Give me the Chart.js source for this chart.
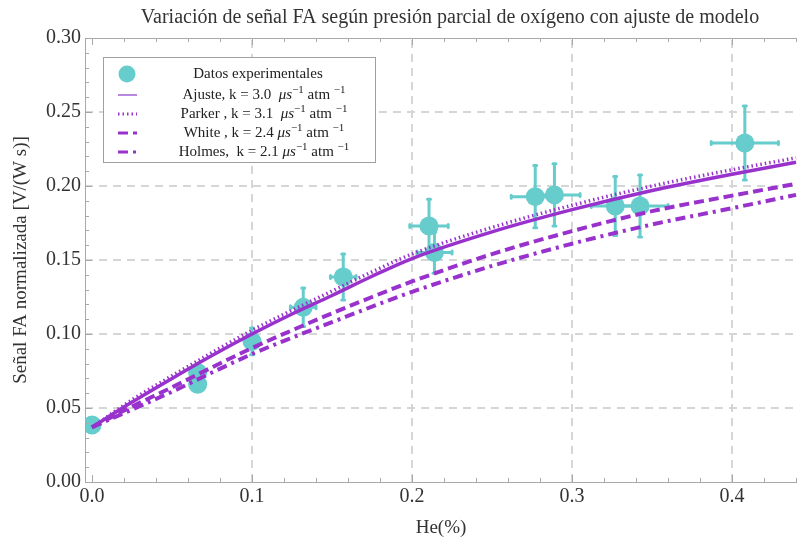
<!DOCTYPE html>
<html>
<head>
<meta charset="utf-8">
<script src="https://cdn.jsdelivr.net/npm/chart.js@4/dist/chart.umd.min.js"></script>
<style>
  html, body { margin: 0; padding: 0; background: #fff; }
</style>
</head>
<body>
<canvas id="senalFA" width="797" height="543"></canvas>
<script>
// datos experimentales
var heX   = [0.000, 0.066, 0.066, 0.100, 0.132, 0.157, 0.2106, 0.214, 0.277, 0.289, 0.327, 0.3425, 0.408];
var senal = [0.0385, 0.074, 0.066, 0.095, 0.118, 0.1385, 0.173, 0.155, 0.1928, 0.194, 0.1865, 0.1865, 0.229];
var errX  = [0, 0, 0, 0, 0.008, 0.008, 0.012, 0.011, 0.015, 0.016, 0.015, 0.0175, 0.021];
var errY  = [0, 0, 0, 0.009, 0.013, 0.0155, 0.018, 0.014, 0.021, 0.021, 0.020, 0.021, 0.025];

// curvas de modelo
var curvaX   = [0, 0.025, 0.05, 0.075, 0.1, 0.125, 0.15, 0.175, 0.2, 0.25, 0.3, 0.35, 0.4, 0.44];
var ajusteY  = [0.037, 0.054, 0.070, 0.0855, 0.100, 0.1135, 0.126, 0.139, 0.151, 0.169, 0.184, 0.197, 0.208, 0.216];
var parkerY  = [0.037, 0.0555, 0.0718, 0.0875, 0.1025, 0.116, 0.129, 0.142, 0.154, 0.172, 0.187, 0.2, 0.211, 0.219];
var whiteY   = [0.037, 0.051, 0.064, 0.0775, 0.0905, 0.1025, 0.114, 0.125, 0.1355, 0.154, 0.1695, 0.183, 0.1935, 0.2015];
var holmesY  = [0.037, 0.049, 0.061, 0.074, 0.0865, 0.0975, 0.108, 0.1185, 0.1285, 0.146, 0.161, 0.174, 0.185, 0.194];

var etiquetasX = [0, 0.1, 0.2, 0.3, 0.4];
var etiquetasY = [0, 0.05, 0.10, 0.15, 0.20, 0.25, 0.30];

var leyenda = [
    'Datos experimentales',
    ['Ajuste, k = 3.0  ', 'μs', '−1', ' atm ', '−1'],
    ['Parker , k = 3.1  ', 'μs', '−1', ' atm ', '−1'],
    ['White , k = 2.4 ', 'μs', '−1', ' atm ', '−1'],
    ['Holmes,  k = 2.1 ', 'μs', '−1', ' atm ', '−1']
];

var TEAL = '#66cccc';
var MORADO = '#9932cc';
var SERIF = "'Liberation Serif', 'DejaVu Serif', serif";

function pares(xs, ys) {
    return xs.map(function(x, i) { return { x: x, y: ys[i] }; });
}

// rejilla punteada, marcas hacia dentro, barras de error, titulo y leyenda
var extras = {
    id: 'extras',
    beforeDraw: function(chart) {
        var c = chart.ctx;
        c.save();
        c.fillStyle = '#fff';
        c.fillRect(0, 0, chart.width, chart.height);
        c.restore();
    },
    beforeDatasetsDraw: function(chart) {
        var c = chart.ctx, a = chart.chartArea;
        var sx = chart.scales.x, sy = chart.scales.y;
        c.save();
        c.strokeStyle = '#d6d6d6';
        c.lineWidth = 2;
        c.setLineDash([8, 6]);
        etiquetasX.forEach(function(v) {
            var px = Math.round(sx.getPixelForValue(v));
            if (v === 0) return;
            c.beginPath(); c.moveTo(px, a.bottom); c.lineTo(px, a.top); c.stroke();
        });
        etiquetasY.forEach(function(v) {
            var py = Math.round(sy.getPixelForValue(v));
            if (v === 0 || v === 0.30) return;
            c.beginPath(); c.moveTo(a.left, py); c.lineTo(a.right, py); c.stroke();
        });
        c.setLineDash([]);

        // barras de error
        c.strokeStyle = TEAL;
        c.lineWidth = 3;
        c.lineCap = 'round';
        heX.forEach(function(x, i) {
            var px = sx.getPixelForValue(x), py = sy.getPixelForValue(senal[i]);
            c.beginPath();
            if (errX[i] > 0) {
                var x0 = sx.getPixelForValue(x - errX[i]), x1 = sx.getPixelForValue(x + errX[i]);
                c.moveTo(x0, py); c.lineTo(x1, py);
                c.moveTo(x0, py - 1.5); c.lineTo(x0, py + 1.5);
                c.moveTo(x1, py - 1.5); c.lineTo(x1, py + 1.5);
            }
            if (errY[i] > 0) {
                var y0 = sy.getPixelForValue(senal[i] - errY[i]), y1 = sy.getPixelForValue(senal[i] + errY[i]);
                c.moveTo(px, y0); c.lineTo(px, y1);
                c.moveTo(px - 1.5, y0); c.lineTo(px + 1.5, y0);
                c.moveTo(px - 1.5, y1); c.lineTo(px + 1.5, y1);
            }
            c.stroke();
        });
        c.restore();
    },
    afterDraw: function(chart) {
        var c = chart.ctx, a = chart.chartArea;
        var sx = chart.scales.x, sy = chart.scales.y;
        c.save();

        // marco
        c.strokeStyle = '#a8a8a8';
        c.lineWidth = 1;
        c.beginPath();
        c.moveTo(a.right, a.top + 0.5); c.lineTo(a.left + 0.5, a.top + 0.5);
        c.lineTo(a.left + 0.5, a.bottom + 0.5); c.lineTo(a.right, a.bottom + 0.5);
        c.stroke();

        // marcas
        c.beginPath();
        var v, px, py, L;
        for (var k = 0; k <= 22; k++) {
            v = k * 0.02;
            px = Math.round(sx.getPixelForValue(v)) + 0.5;
            L = (k % 5 === 0) ? 7 : 4;
            c.moveTo(px, a.bottom); c.lineTo(px, a.bottom - L);
            c.moveTo(px, a.top); c.lineTo(px, a.top + L);
        }
        for (var j = 0; j <= 30; j++) {
            v = j * 0.01;
            py = Math.round(sy.getPixelForValue(v)) + 0.5;
            L = (j % 5 === 0) ? 7 : 4;
            c.moveTo(a.left, py); c.lineTo(a.left + L, py);
        }
        c.stroke();

        // titulo
        c.fillStyle = '#333';
        c.font = '20px ' + SERIF;
        c.textAlign = 'center';
        c.textBaseline = 'middle';
        c.fillText('Variación de señal FA según presión parcial de oxígeno con ajuste de modelo', 450, 18);

        // leyenda
        var bx = 103, by = 57, bw = 272, bh = 105;
        c.fillStyle = '#fff';
        c.fillRect(bx, by, bw, bh);
        c.strokeStyle = '#a0a0a0';
        c.strokeRect(bx + 0.5, by + 0.5, bw, bh);
        var filas = [74, 95, 114, 133, 152];
        var sets = chart.data.datasets;
        var mx = 127;

        c.fillStyle = TEAL;
        c.beginPath(); c.arc(mx, filas[0], 8.5, 0, Math.PI * 2); c.fill();
        for (var r = 1; r < 5; r++) {
            var ds = sets[r];
            c.strokeStyle = r === 1 ? '#b987e0' : ds.borderColor;
            c.lineWidth = r === 1 ? 2 : 3;
            c.setLineDash(ds.borderDash || []);
            c.beginPath(); c.moveTo(mx - 9, filas[r]); c.lineTo(mx + 10, filas[r]); c.stroke();
        }
        c.setLineDash([]);

        c.fillStyle = '#222';
        c.textAlign = 'center';
        c.font = '15px ' + SERIF;
        c.fillText(leyenda[0], 258, filas[0]);
        for (r = 1; r < 5; r++) {
            var partes = leyenda[r];
            var fNormal = '15px ' + SERIF, fItal = 'italic 15px ' + SERIF, fSup = '11px ' + SERIF;
            var estilos = [fNormal, fItal, fSup, fNormal, fSup];
            var ancho = 0;
            partes.forEach(function(t, i) { c.font = estilos[i]; ancho += c.measureText(t).width; });
            var x = 264 - ancho / 2;
            c.textAlign = 'left';
            partes.forEach(function(t, i) {
                c.font = estilos[i];
                var dy = (estilos[i] === fSup) ? -5 : 0;
                c.fillText(t, x, filas[r] + dy);
                x += c.measureText(t).width;
            });
        }
        c.restore();
    }
};

var ctx = document.getElementById('senalFA').getContext('2d');
var grafico = new Chart(ctx, {
    type: 'scatter',
    data: {
        datasets: [{
            label: 'Datos experimentales',
            data: pares(heX, senal),
            backgroundColor: TEAL,
            borderColor: TEAL,
            pointRadius: 9.5,
            pointHoverRadius: 9.5,
            borderWidth: 0,
            order: 5
        }, {
            label: 'Ajuste',
            data: pares(curvaX, ajusteY),
            showLine: true,
            borderColor: MORADO,
            borderWidth: 3.5,
            pointRadius: 0,
            cubicInterpolationMode: 'monotone',
            order: 1
        }, {
            label: 'Parker',
            data: pares(curvaX, parkerY),
            showLine: true,
            borderColor: MORADO,
            borderWidth: 3.5,
            borderDash: [1.5, 3],
            pointRadius: 0,
            cubicInterpolationMode: 'monotone',
            order: 2
        }, {
            label: 'White',
            data: pares(curvaX, whiteY),
            showLine: true,
            borderColor: MORADO,
            borderWidth: 4,
            borderDash: [10, 5],
            pointRadius: 0,
            cubicInterpolationMode: 'monotone',
            order: 3
        }, {
            label: 'Holmes',
            data: pares(curvaX, holmesY),
            showLine: true,
            borderColor: MORADO,
            borderWidth: 4,
            borderDash: [10, 5, 3, 5],
            pointRadius: 0,
            cubicInterpolationMode: 'monotone',
            order: 4
        }]
    },
    options: {
        responsive: false,
        animation: false,
        layout: { autoPadding: false, padding: { top: 38, right: 0, left: 0, bottom: 0 } },
        plugins: {
            legend: { display: false },
            title: { display: false },
            tooltip: { enabled: false }
        },
        scales: {
            x: {
                type: 'linear',
                min: -0.0044,
                max: 0.4406,
                afterBuildTicks: function(s) { s.ticks = etiquetasX.map(function(v) { return { value: v }; }); },
                afterFit: function(s) { s.height = 61; },
                grid: { display: false, drawTicks: false },
                border: { display: false },
                ticks: {
                    padding: 3,
                    maxRotation: 0,
                    autoSkip: false,
                    color: '#333',
                    font: { family: SERIF, size: 20 },
                    callback: function(v) { return v.toFixed(1); }
                },
                title: {
                    display: true,
                    text: 'He(%)',
                    color: '#333',
                    font: { family: SERIF, size: 19 },
                    padding: { top: 0, bottom: 4 }
                }
            },
            y: {
                type: 'linear',
                min: 0,
                max: 0.30,
                afterBuildTicks: function(s) { s.ticks = etiquetasY.map(function(v) { return { value: v }; }); },
                afterFit: function(s) { s.width = 85; },
                grid: { display: false, drawTicks: false },
                border: { display: false },
                ticks: {
                    padding: 4,
                    autoSkip: false,
                    color: '#333',
                    font: { family: SERIF, size: 20 },
                    callback: function(v) { return v.toFixed(2); }
                },
                title: {
                    display: true,
                    text: 'Señal FA normalizada [V/(W s)]',
                    color: '#333',
                    font: { family: SERIF, size: 19 },
                    padding: { top: 10, bottom: 0 }
                }
            }
        }
    },
    plugins: [extras]
});
</script>
</body>
</html>
